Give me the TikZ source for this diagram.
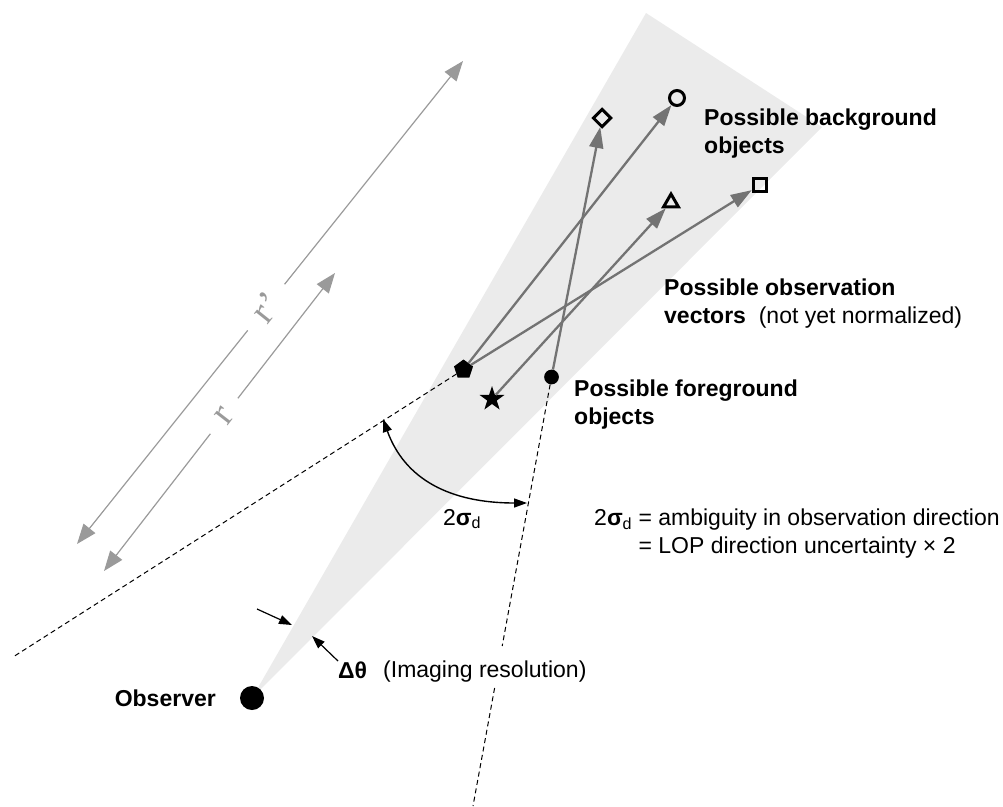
\documentclass[tikz,border=0pt]{standalone}
\usepackage{fontspec}
\setmainfont{Liberation Sans}
\newfontfamily\serifr{Liberation Serif}
\usetikzlibrary{arrows.meta,shapes.geometric}
\definecolor{wedgegray}{HTML}{EBEBEB}
\definecolor{vecgray}{HTML}{737373}
\definecolor{rgray}{HTML}{9A9A9A}
\begin{document}
\begin{tikzpicture}[x=1pt,y=-1pt,
  lbl/.style={font=\fontsize{23}{28}\selectfont, inner sep=0pt, align=left},
  sym/.style={draw=black, line width=3pt, inner sep=0pt},
  blacksym/.style={fill=black, inner sep=0pt},
  vec/.style={draw=vecgray, line width=2.3pt, -{Triangle[length=21pt,width=14pt]}},
  rarrow/.style={draw=rgray, line width=1.2pt, {Triangle[length=20pt,width=15pt]}-{Triangle[length=20pt,width=15pt]}},
  rlabel/.style={sloped, fill=white, text=rgray, inner xsep=16pt, inner ysep=1pt, font=\serifr\fontsize{38}{40}\selectfont},
  lop/.style={draw=black, line width=1pt, dash pattern=on 5pt off 3.5pt},
  thinarrow/.style={draw=black, line width=1.2pt, -{Triangle[length=13pt,width=9pt]}},
  arcarrow/.style={draw=black, line width=1.4pt, {Triangle[length=13pt,width=9pt]}-{Triangle[length=13pt,width=9pt]}},
]
\useasboundingbox (0,0) rectangle (1003,806);

% wedge of imaging resolution
\coordinate (obsc) at (252,698);
\coordinate (wtop) at (646,13);
\coordinate (wright) at (822,127);
\fill[wedgegray] (obsc) -- (wtop) -- (wright) -- cycle;

% distance arrows r' and r
\coordinate (rpA) at (77,544);
\coordinate (rpB) at (463,61);
\coordinate (rA) at (104,571);
\coordinate (rB) at (335,273);
\draw[rarrow] (rpA) -- node[rlabel, pos=0.49] (rplbl) {r’} (rpB);
\draw[rarrow] (rA) -- node[rlabel, pos=0.52] (rlbl) {r} (rB);

% objects
\node[circle, blacksym, minimum size=24pt] (obs) at (obsc) {};
\node[regular polygon, regular polygon sides=5, blacksym, minimum size=20pt] (pent) at (463.5,369.5) {};
\node[star, star points=5, star point ratio=2.6, blacksym, minimum size=26pt] (star) at (492,399) {};
\node[circle, blacksym, minimum size=14.7pt] (fgdot) at (551.5,377) {};
\node[diamond, sym, minimum size=18.5pt] (dia) at (602,118) {};
\node[circle, sym, minimum size=15pt] (circ) at (677,98) {};
\node[regular polygon, regular polygon sides=3, sym, minimum size=17pt] (tri) at (671,202.5) {};
\node[rectangle, sym, minimum size=13.5pt] (sq) at (760,185) {};

% lines of position (dashed)
\coordinate (lopL) at (13,657);
\coordinate (lopRa) at (502.2,646);
\coordinate (lopRb) at (494.6,688);
\coordinate (lopRend) at (473,806);
\draw[lop] (pent) -- (lopL);
\draw[lop] (fgdot) -- (lopRa);
\draw[lop] (lopRb) -- (lopRend);

% 2 sigma_d arc
\coordinate (arcL) at (383,419);
\coordinate (arcR) at (527,503);
\draw[arcarrow] (arcL) .. controls (405,480) and (451,503) .. (arcR);

% delta theta arrows
\coordinate (dtA) at (257,609);
\coordinate (dtAtip) at (292,625);
\coordinate (dtB) at (338,661);
\coordinate (dtBtip) at (312,636);
\draw[thinarrow] (dtA) -- (dtAtip);
\draw[thinarrow] (dtB) -- (dtBtip);

% observation vectors
\draw[vec] (fgdot) -- (dia);
\draw[vec] (pent) -- (circ);
\draw[vec] (star) -- (tri);
\draw[vec] (pent) -- (sq);

% labels
\node[lbl, anchor=north west, font=\fontsize{23}{28}\selectfont\bfseries] (bglbl) at (704,109) {Possible background\\objects};
\node[lbl, anchor=north west] (obslbl) at (664,279) {\textbf{Possible observation}\\\textbf{vectors}\ \ (not yet normalized)};
\node[lbl, anchor=north west, font=\fontsize{23}{28}\selectfont\bfseries] (fglbl) at (574,380) {Possible foreground\\objects};
\node[lbl, anchor=east, font=\fontsize{23}{28}\selectfont\bfseries] (observer) at (216,698) {Observer};
\node[lbl, anchor=west] (dtlbl) at (338,670) {\textbf{Δθ}};
\node[lbl, anchor=west] (imglbl) at (383,672) {(Imaging resolution)};
\node[lbl] (siglbl) at (462,519) {2\textbf{σ}\textsubscript{d}};
\node[lbl, anchor=north west] (ambig) at (594,509) {2\textbf{σ}\textsubscript{d} = ambiguity in observation direction\\\hphantom{2\textbf{σ}\textsubscript{d}} = LOP direction uncertainty × 2};
\end{tikzpicture}
\end{document}
